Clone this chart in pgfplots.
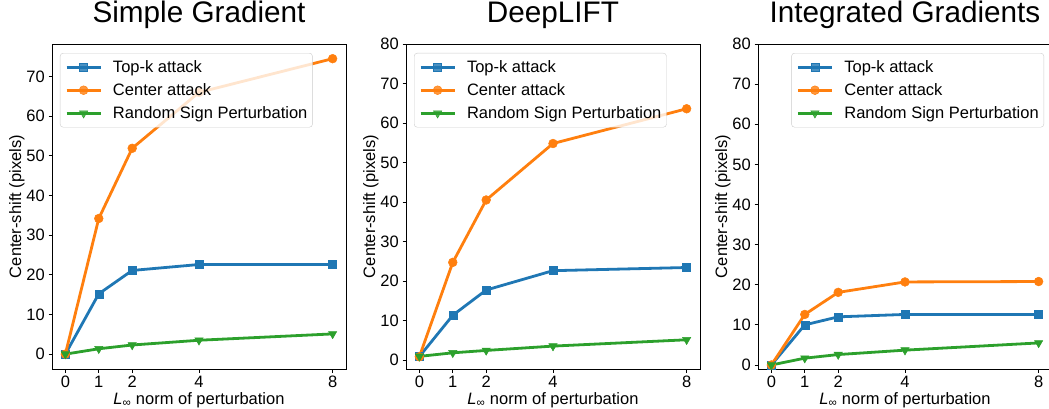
\documentclass[border=0pt]{standalone}
\usepackage{fontspec}
\setmainfont{Liberation Sans}
\usepackage{pgfplots}
\pgfplotsset{compat=1.18}

\definecolor{tabblue}{HTML}{1F77B4}
\definecolor{taborange}{HTML}{FF7F0E}
\definecolor{tabgreen}{HTML}{2CA02C}

\newcommand{\lblfont}{\fontsize{16.5}{19}\selectfont}
\newcommand{\lstrut}{\rule[-6pt]{0pt}{23pt}}

\pgfplotsset{
  panel/.style={
    scale only axis, width=294pt, height=325pt,
    xmin=-0.4, xmax=8.4,
    xtick={0,1,2,4,8},
    tick pos=left,
    tick align=outside, major tick length=3.5pt,
    tick style={black, line width=0.8pt},
    axis line style={black, line width=0.8pt},
    ticklabel style={font=\lblfont},
    /pgf/number format/assume math mode=true,
    xticklabel style={anchor=base, inner sep=0pt, yshift=-14.5pt},
    yticklabel style={anchor=east, inner sep=0pt, xshift=-3.5pt},
    label style={font=\lblfont},
    xlabel={\textit{L}\textsubscript{∞} norm of perturbation},
    ylabel={Center-shift (pixels)},
    xlabel style={at={(axis description cs:0.5,-0.1077)}, anchor=base},
    ylabel style={at={(axis description cs:-0.1054,0.5)}, anchor=base},
    title style={font=\fontsize{29.7}{34}\selectfont,
      at={(axis description cs:0.5,1.0462)}, anchor=base},
    legend cell align=left,
    legend style={font=\lblfont, draw=black!20, rounded corners=3pt,
      fill=white, fill opacity=0.8, text opacity=1,
      inner xsep=5pt, inner ysep=2.5pt, nodes={inner sep=0pt, text depth=6pt},
      /tikz/every odd column/.append style={column sep=11pt}},
    legend image code/.code={%
      \draw[mark repeat=2, mark phase=2] plot coordinates {(0pt,0pt) (17pt,0pt) (34pt,0pt)};},
    every axis plot/.append style={line width=2.8pt},
  },
  topk/.style={color=tabblue, mark=square*, mark size=4pt, mark options={line width=0.5pt}},
  cent/.style={color=taborange, mark=*, mark size=4.4pt, mark options={line width=0.5pt}},
  rnd/.style={color=tabgreen, mark=triangle*, mark size=4.8pt, mark options={line width=0.5pt, rotate=180}},
}

\begin{document}
\begin{tikzpicture}

% Simple Gradient
\begin{axis}[panel, at={(52pt,39pt)}, anchor=south west,
  title={Simple Gradient},
  ymin=-3.75, ymax=78.2, ytick={0,10,...,70},
  legend style={at={(axis description cs:0.0272,0.9723)}, anchor=north west}]
\addplot[topk] coordinates {(0,0) (1,15.2) (2,21.1) (4,22.6) (8,22.6)};
\addlegendentry{\lstrut Top-k attack}
\addplot[cent] coordinates {(0,0) (1,34.2) (2,51.9) (4,66.0) (8,74.5)};
\addlegendentry{\lstrut Center attack}
\addplot[rnd] coordinates {(0,0) (1,1.35) (2,2.3) (4,3.5) (8,5.1)};
\addlegendentry{\lstrut Random Sign Perturbation}
\end{axis}

% DeepLIFT
\begin{axis}[panel, at={(406pt,39pt)}, anchor=south west,
  title={DeepLIFT},
  ymin=-2.3, ymax=80, ytick={0,10,...,80},
  legend style={at={(axis description cs:0.0272,0.9723)}, anchor=north west}]
\addplot[topk] coordinates {(0,0.85) (1,11.3) (2,17.7) (4,22.6) (8,23.4)};
\addlegendentry{\lstrut Top-k attack}
\addplot[cent] coordinates {(0,0.8) (1,24.7) (2,40.5) (4,54.8) (8,63.6)};
\addlegendentry{\lstrut Center attack}
\addplot[rnd] coordinates {(0,0.9) (1,1.8) (2,2.4) (4,3.5) (8,5.1)};
\addlegendentry{\lstrut Random Sign Perturbation}
\end{axis}

% Integrated Gradients
\begin{axis}[panel, at={(758pt,39pt)}, anchor=south west,
  title={Integrated Gradients},
  ymin=-1.0, ymax=80, ytick={0,10,...,80},
  legend style={at={(axis description cs:0.9728,0.9723)}, anchor=north east}]
\addplot[topk] coordinates {(0,0) (1,10.0) (2,12.0) (4,12.6) (8,12.6)};
\addlegendentry{\lstrut Top-k attack}
\addplot[cent] coordinates {(0,0) (1,12.6) (2,18.1) (4,20.7) (8,20.8)};
\addlegendentry{\lstrut Center attack}
\addplot[rnd] coordinates {(0,0) (1,1.7) (2,2.6) (4,3.7) (8,5.5)};
\addlegendentry{\lstrut Random Sign Perturbation}
\end{axis}

\pgfresetboundingbox
\useasboundingbox (0,0) rectangle (1049pt,408pt);
\end{tikzpicture}
\end{document}
